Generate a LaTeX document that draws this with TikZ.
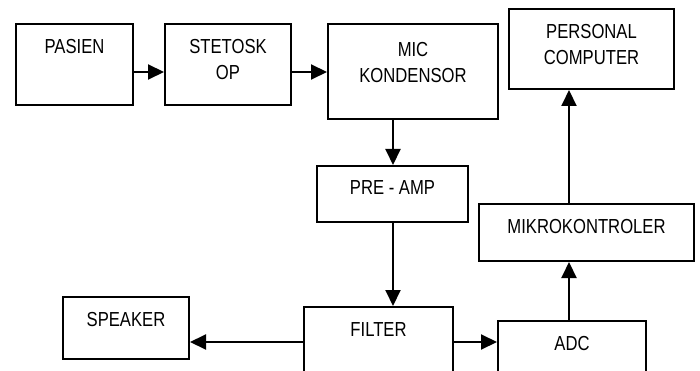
\documentclass[tikz,border=0pt]{standalone}
\usepackage{fontspec}
\setmainfont{Liberation Sans}[FakeStretch=0.82]
\usetikzlibrary{arrows.meta}
\begin{document}
\begin{tikzpicture}[x=1pt,y=-1pt,
  blk/.style={draw, line width=2pt, anchor=north west, inner sep=0pt},
  lbl/.style={anchor=north, yshift=-16pt, align=center, inner sep=0pt,
    font=\fontsize{20.3}{26}\selectfont},
  arr/.style={line width=2pt, -{Triangle[length=16pt,width=15pt]}}]
  \useasboundingbox (0,0) rectangle (700,371);
  \clip (0,0) rectangle (700,371);

  % signal chain blocks
  \node[blk, minimum width=117pt, minimum height=81pt, label={[lbl]north:PASIEN}] (pasien) at (15,23) {};
  \node[blk, minimum width=126pt, minimum height=81pt, label={[lbl]north:STETOSK\\OP}] (stet) at (164,23) {};
  \node[blk, minimum width=170pt, minimum height=95pt, label={[lbl,yshift=-3pt]north:MIC\\KONDENSOR}] (mic) at (327,23) {};
  \node[blk, minimum width=165pt, minimum height=80pt, label={[lbl]north:PERSONAL\\COMPUTER}] (pc) at (508,8) {};
  \node[blk, minimum width=151pt, minimum height=56pt, label={[lbl,yshift=1pt]north:PRE - AMP}] (pre) at (316,165) {};
  \node[blk, minimum width=215pt, minimum height=57pt, label={[lbl]north:MIKROKONTROLER}] (mikro) at (478,203) {};
  \node[blk, minimum width=126pt, minimum height=62pt, label={[lbl]north:SPEAKER}] (speaker) at (62,296) {};
  \node[blk, minimum width=149pt, minimum height=100pt, label={[lbl]north:FILTER}] (filter) at (303,306) {};
  \node[blk, minimum width=148pt, minimum height=100pt, label={[lbl]north:ADC}] (adc) at (497,320) {};

  % guide positions for the connectors
  \coordinate (rowA) at (0,72);
  \coordinate (rowB) at (0,342);
  \coordinate (colA) at (393,0);
  \coordinate (colB) at (569,0);

  % connectors
  \draw[arr] (pasien.east |- rowA) -- (stet.west |- rowA);
  \draw[arr] (stet.east |- rowA) -- (mic.west |- rowA);
  \draw[arr] (colA |- mic.south) -- (colA |- pre.north);
  \draw[arr] (colA |- pre.south) -- (colA |- filter.north);
  \draw[arr] (filter.west |- rowB) -- (speaker.east |- rowB);
  \draw[arr] (filter.east |- rowB) -- (adc.west |- rowB);
  \draw[arr] (colB |- adc.north) -- (colB |- mikro.south);
  \draw[arr] (colB |- mikro.north) -- (colB |- pc.south);
\end{tikzpicture}
\end{document}
